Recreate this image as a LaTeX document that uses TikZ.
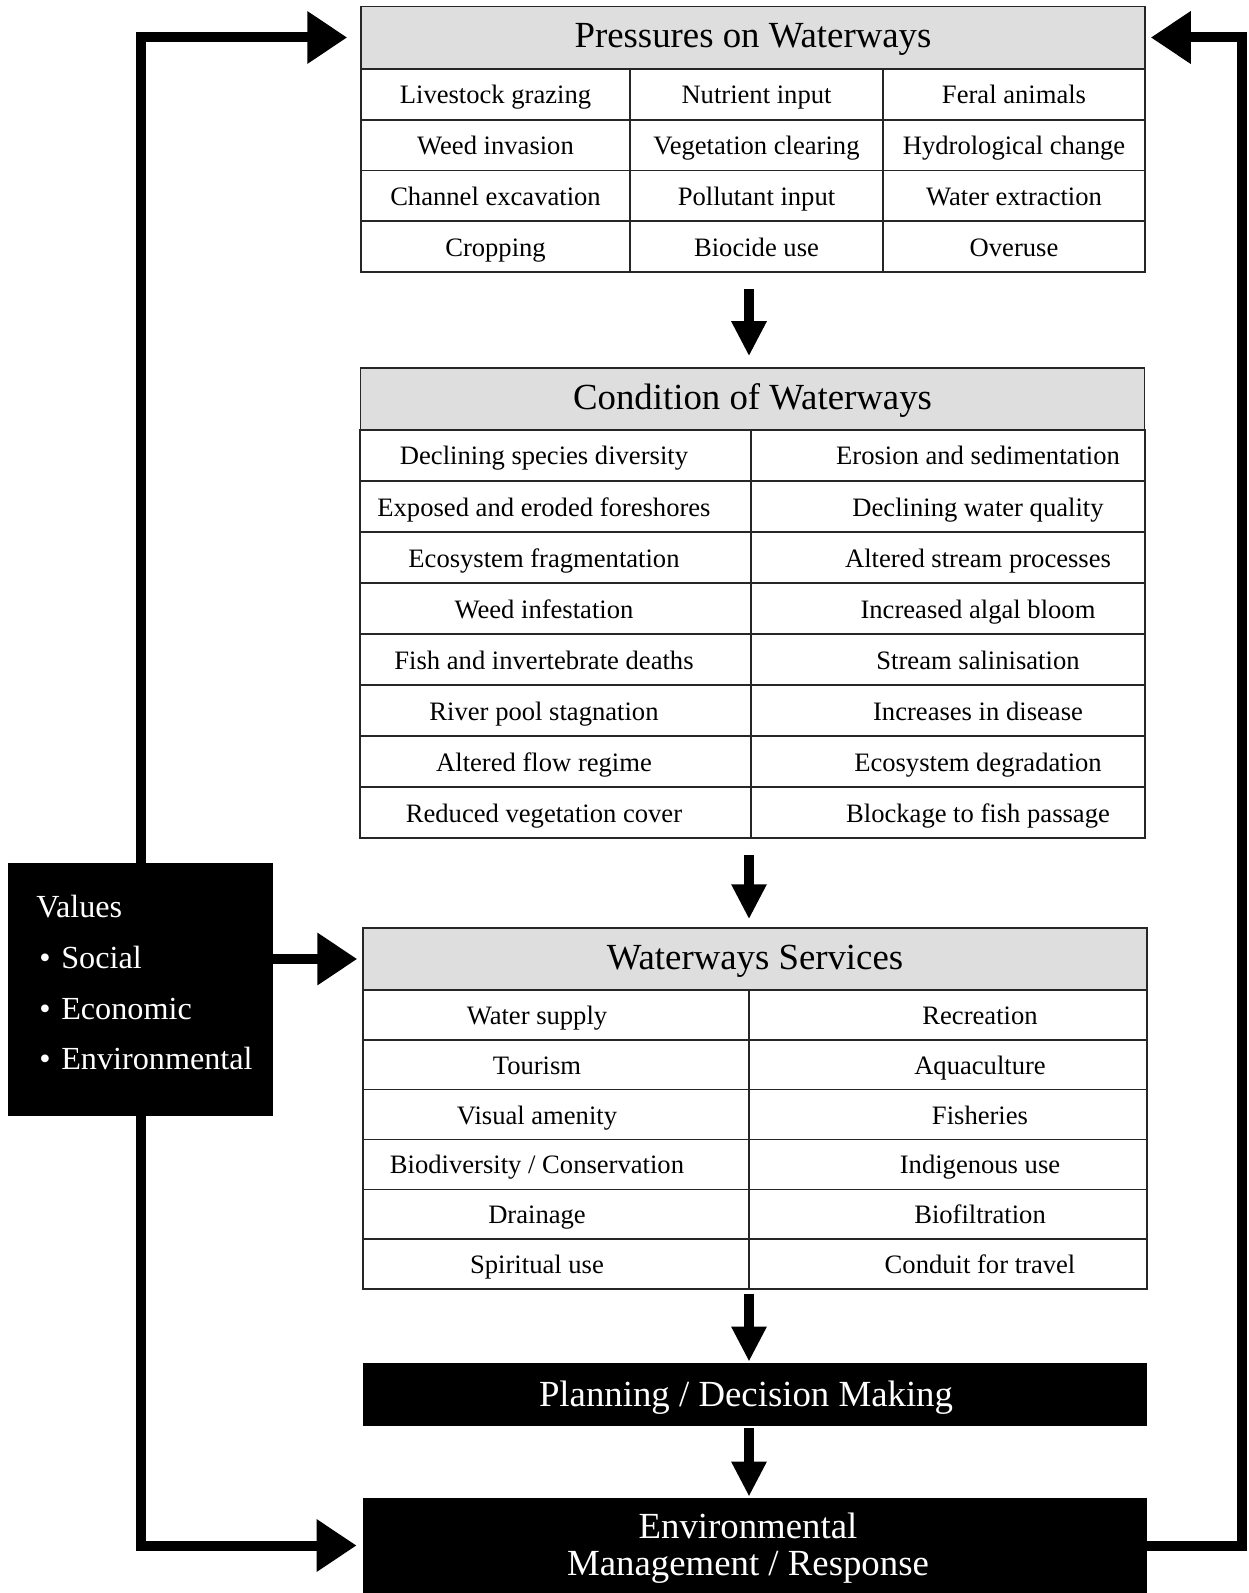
\documentclass[tikz,border=0pt]{standalone}
\usepackage{fontspec}
\setmainfont{Liberation Serif}
\usetikzlibrary{arrows.meta}
\newcommand{\celltoleft}[2]{#2\hspace*{#1}}
\newcommand{\celltoright}[2]{\hspace*{#1}#2}
\newcommand{\valueitem}[1]{\hspace*{1.5pt}•\hspace{0.33em}#1}

\begin{document}
\begin{tikzpicture}[x = 0.5pt, y = -0.5pt, every node/.style = {inner sep = 0pt},
  head/.style = {draw = black!85, line width = 0.75pt, fill = black!13, minimum width = 392pt, minimum height = 31pt, text height = 14pt, text depth = 4pt, font = \fontsize{18.4}{22}\selectfont},
  cell/.style = {draw = black!85, line width = 0.75pt, text height = 12.5pt, text depth = 3pt, font = \fontsize{13.3}{16}\selectfont},
  darkbox/.style = {fill = black, text = white, minimum width = 392pt, align = center, text depth = 1pt, font = \fontsize{18.4}{18.5}\selectfont},
  flow/.style = {line width = 5pt, -{Triangle[length = 17.5pt, width = 16.5pt]}},
  feedback/.style = {line width = 5pt, -{Triangle[length = 20pt, width = 25pt]}}]

	\useasboundingbox (0, 0) rectangle (1248, 1593);
	\coordinate (axis)   at ( 749, 0);
	\coordinate (rightx) at (1242, 0);

	% pressures
	\node[head] (presshead) at (753, 37.5) {Pressures on Waterways};
	\foreach \a/\b/\c [count=\i] in {Livestock grazing/Nutrient input/Feral animals,
	  Weed invasion/Vegetation clearing/Hydrological change,
	  Channel excavation/Pollutant input/Water extraction,
	  Cropping/Biocide use/Overuse}{
		\pgfmathsetmacro{\yy}{69 + 50.75*(\i - 0.5)}
		\node[cell, minimum width = 134.5pt, minimum height = 25.4pt] (press-\i-1) at ( 495.5, \yy) {\a};
		\node[cell, minimum width = 126.5pt, minimum height = 25.4pt] (press-\i-2) at ( 756.5, \yy) {\b};
		\node[cell, minimum width = 131pt,   minimum height = 25.4pt] (press-\i-3) at (1014,   \yy) {\c};
	}

	% condition
	\node[head] (condhead) at (752.5, 399) {Condition of Waterways};
	\foreach \a/\b [count=\i] in {Declining species diversity/Erosion and sedimentation,
	  Exposed and eroded foreshores/Declining water quality,
	  Ecosystem fragmentation/Altered stream processes,
	  Weed infestation/Increased algal bloom,
	  Fish and invertebrate deaths/Stream salinisation,
	  River pool stagnation/Increases in disease,
	  Altered flow regime/Ecosystem degradation,
	  Reduced vegetation cover/Blockage to fish passage}{
		\pgfmathsetmacro{\yy}{430 + 51*(\i - 0.5)}
		\node[cell, minimum width = 195.5pt, minimum height = 25.5pt] (cond-\i-1) at (555.5, \yy) {\celltoleft{11.5pt}{\a}};
		\node[cell, minimum width = 197pt,   minimum height = 25.5pt] (cond-\i-2) at (948,   \yy) {\celltoright{30pt}{\b}};
	}

	% services
	\node[head] (servhead) at (755, 959) {Waterways Services};
	\foreach \a/\b [count=\i] in {Water supply/Recreation,
	  Tourism/Aquaculture,
	  Visual amenity/Fisheries,
	  {Biodiversity / Conservation}/Indigenous use,
	  Drainage/Biofiltration,
	  Spiritual use/Conduit for travel}{
		\pgfmathsetmacro{\yy}{990 + 49.83*(\i - 0.5)}
		\node[cell, minimum width = 193pt, minimum height = 24.9pt] (serv-\i-1) at (556, \yy) {\celltoleft{19pt}{\a}};
		\node[cell, minimum width = 199pt, minimum height = 24.9pt] (serv-\i-2) at (948, \yy) {\celltoright{32pt}{\b}};
	}

	\node[darkbox, minimum height = 31.5pt] (plan) at (755, 1394.5) {\celltoleft{9pt}{Planning / Decision Making}};
	\node[darkbox, minimum height = 47.5pt] (envbox) at (755, 1545.5) {\celltoleft{7pt}{Environmental}\\\celltoleft{7pt}{Management / Response}};
	\node[fill = black, text = white, minimum width = 132.5pt, minimum height = 126.5pt, align = left, text depth = 7pt, font = \fontsize{16.1}{25.4}\selectfont] (values) at (140.5, 989.5)
	  {Values\\\valueitem{Social}\\\valueitem{Economic}\\\valueitem{Environmental}\hspace*{-4pt}};

	% downward flow
	\draw[flow, shorten <= 8pt, shorten >= 5.5pt] (press-4-2.south -| axis) -- (condhead.north -| axis);
	\draw[flow, shorten <= 8pt, shorten >= 4pt]   (cond-8-1.south -| axis)  -- (servhead.north -| axis);
	\draw[flow, shorten <= 2pt, shorten >= 0.5pt] (serv-6-1.south -| axis)  -- (plan.north -| axis);
	\draw[flow, shorten <= 1pt, shorten >= 0.5pt] (plan.south -| axis)      -- (envbox.north -| axis);

	% loops
	\draw[feedback, shorten >= 6.5pt] (values.north) |- (presshead.west);
	\draw[feedback, shorten >= 2.5pt] (values.east |- servhead.west) -- (servhead.west);
	\draw[feedback, shorten >= 3pt]   (values.south) |- (envbox.west);
	\draw[feedback, shorten >= 2.5pt] (envbox.east) -| (rightx |- presshead.east) -- (presshead.east);

\end{tikzpicture}
\end{document}
